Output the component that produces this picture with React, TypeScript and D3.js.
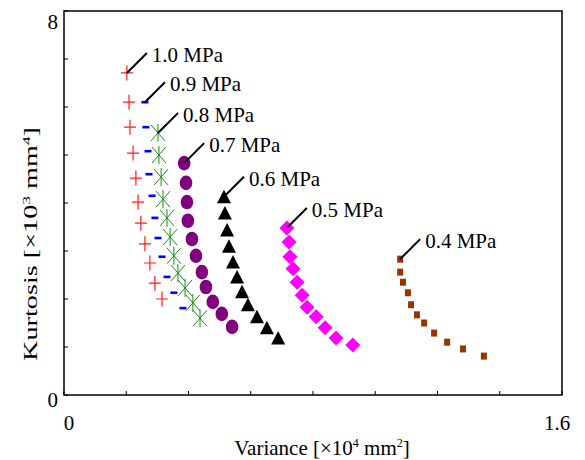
import React from "react";
import * as d3 from "d3";

// variance [x10^4 mm^2] and kurtosis [x10^3 mm^4] for each pressure
const labels = ["1.0 MPa", "0.9 MPa", "0.8 MPa", "0.7 MPa", "0.6 MPa", "0.5 MPa", "0.4 MPa"];

const var10 = [0.202, 0.209, 0.212, 0.222, 0.231, 0.238, 0.247, 0.26, 0.276, 0.292, 0.315];
const kurt10 = [6.71, 6.1, 5.58, 5.04, 4.52, 4.02, 3.58, 3.15, 2.75, 2.33, 2.0];

const var09 = [0.26, 0.263, 0.27, 0.273, 0.283, 0.292, 0.302, 0.315, 0.331, 0.353, 0.382];
const kurt09 = [6.1, 5.58, 5.08, 4.6, 4.15, 3.69, 3.27, 2.88, 2.46, 2.13, 1.81];

const var08 = [0.302, 0.305, 0.312, 0.318, 0.331, 0.341, 0.353, 0.366, 0.389, 0.414, 0.437];
const kurt08 = [5.46, 5.0, 4.54, 4.08, 3.69, 3.29, 2.9, 2.54, 2.23, 1.92, 1.6];

const var07 = [0.386, 0.392, 0.395, 0.398, 0.411, 0.424, 0.443, 0.456, 0.478, 0.507, 0.54];
const kurt07 = [4.83, 4.42, 4.02, 3.63, 3.25, 2.9, 2.56, 2.25, 1.94, 1.69, 1.42];

const var06 = [0.514, 0.517, 0.524, 0.53, 0.543, 0.556, 0.572, 0.591, 0.62, 0.652, 0.688];
const kurt06 = [4.13, 3.79, 3.44, 3.1, 2.77, 2.46, 2.15, 1.88, 1.63, 1.4, 1.19];

const var05 = [0.716, 0.723, 0.726, 0.736, 0.749, 0.765, 0.781, 0.81, 0.839, 0.874, 0.928];
const kurt05 = [3.48, 3.19, 2.88, 2.63, 2.35, 2.08, 1.83, 1.63, 1.4, 1.19, 1.04];

const var04 = [1.08, 1.08, 1.089, 1.105, 1.115, 1.134, 1.157, 1.189, 1.231, 1.282, 1.349];
const kurt04 = [2.83, 2.56, 2.35, 2.13, 1.88, 1.67, 1.5, 1.29, 1.1, 0.96, 0.81];

const xTicks = [0, 0.2, 0.4, 0.6, 0.8, 1.0, 1.2, 1.4, 1.6];
const yTicks = [0, 1, 2, 3, 4, 5, 6, 7, 8];

const W = 585;
const H = 460;
const margin = { left: 64, right: 23, top: 11, bottom: 65 };

const series = [
  { name: labels[0], xs: var10, ys: kurt10, marker: "plus", color: "#ff1a1a" },
  { name: labels[1], xs: var09, ys: kurt09, marker: "dash", color: "#0000ff" },
  { name: labels[2], xs: var08, ys: kurt08, marker: "star", color: "#1a8c1a" },
  { name: labels[3], xs: var07, ys: kurt07, marker: "circle", color: "#800080" },
  { name: labels[4], xs: var06, ys: kurt06, marker: "triangle", color: "#000000" },
  { name: labels[5], xs: var05, ys: kurt05, marker: "diamond", color: "#ff00ff" },
  { name: labels[6], xs: var04, ys: kurt04, marker: "square", color: "#993300" },
];

const font = "'Liberation Serif', 'Times New Roman', serif";
const fs = 21;

function Marker({ type, color, x, y }) {
  const t = `translate(${x},${y})`;
  switch (type) {
    case "plus":
      return <path transform={t} d="M-6,0H6M0,-7.5V7.5" stroke={color} strokeWidth={1.2} fill="none" />;
    case "dash":
      return <rect x={x - 3.5} y={y - 1.3} width={7} height={2.6} fill={color} />;
    case "star":
      return <path transform={t} d="M-7,-8L7,8M7,-8L-7,8M0,-9V9" stroke={color} strokeWidth={1} fill="none" />;
    case "circle":
      return <ellipse cx={x} cy={y} rx={6.3} ry={7.3} fill={color} />;
    case "triangle":
      return <path transform={t} d="M0,-7L7,6.5L-7,6.5Z" fill={color} />;
    case "diamond":
      return <path transform={t} d="M0,-7.5L7.5,0L0,7.5L-7.5,0Z" fill={color} />;
    default:
      return <rect x={x - 3} y={y - 3.5} width={6} height={7} fill={color} />;
  }
}

export default function App() {
  const x = d3.scaleLinear().domain([0, 1.6]).range([margin.left, W - margin.right]);
  const y = d3.scaleLinear().domain([0, 8]).range([H - margin.bottom, margin.top]);
  const [x0, x1] = x.range();
  const [y0, y1] = y.range();

  return (
    <svg width={W} height={H} style={{ position: "absolute", left: 0, top: 0 }} fontFamily={font}>
      <rect width={W} height={H} fill="#fff" />

      {/* inward ticks */}
      {xTicks.map(t => (
        <line key={"x" + t} x1={x(t)} x2={x(t)} y1={y0} y2={y0 - 4} stroke="#000" strokeWidth={1} />
      ))}
      {yTicks.map(t => (
        <line key={"y" + t} x1={x0} x2={x0 + 4} y1={y(t)} y2={y(t)} stroke="#000" strokeWidth={1} />
      ))}
      <rect x={x0} y={y1} width={x1 - x0} height={y0 - y1} fill="none" stroke="#000" strokeWidth={1.5} />

      {/* tick labels, only the ends */}
      <text x={58} y={y(8) + 18} fontSize={fs} textAnchor="end">8</text>
      <text x={58} y={y(0) + 12} fontSize={fs} textAnchor="end">0</text>
      <text x={x(0) + 5} y={430} fontSize={fs} textAnchor="middle">0</text>
      <text x={x(1.6) - 5} y={430} fontSize={fs} textAnchor="middle">1.6</text>

      {/* axis titles */}
      <text x={322} y={455} fontSize={fs} textAnchor="middle">
        Variance [×10<tspan fontSize={12} dy={-8}>4</tspan>
        <tspan dy={8}> mm</tspan>
        <tspan fontSize={12} dy={-8}>2</tspan>
        <tspan dy={8}>]</tspan>
      </text>
      <text
        transform={`translate(37,244) rotate(-90)`}
        fontSize={18}
        textAnchor="middle"
        textLength={234}
        lengthAdjust="spacingAndGlyphs"
      >
        Kurtosis [×10<tspan fontSize={11} dy={-7}>3</tspan>
        <tspan dy={7}> mm</tspan>
        <tspan fontSize={11} dy={-7}>4</tspan>
        <tspan dy={7}>]</tspan>
      </text>

      {/* markers */}
      {series.map(s => (
        <g key={s.name}>
          {s.xs.map((v, i) => (
            <Marker key={i} type={s.marker} color={s.color} x={x(v)} y={y(s.ys[i])} />
          ))}
        </g>
      ))}

      {/* pressure labels with leader lines */}
      {series.map(s => {
        const px = x(s.xs[0]);
        const py = y(s.ys[0]);
        return (
          <g key={"l" + s.name}>
            <line x1={px} y1={py} x2={px + 20} y2={py - 20} stroke="#000" strokeWidth={2} />
            <text x={px + 25} y={py - 11} fontSize={fs}>{s.name}</text>
          </g>
        );
      })}
    </svg>
  );
}
